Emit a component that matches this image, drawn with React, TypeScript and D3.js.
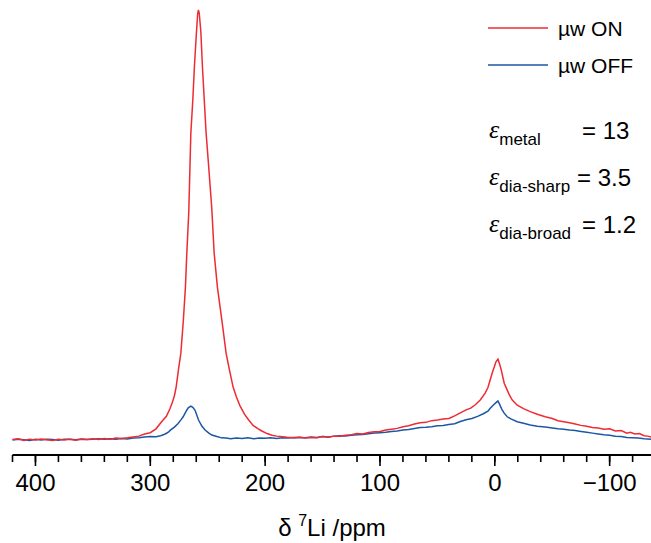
import React from "react";
import * as d3 from "d3";

// [ppm, intensity] (arbitrary units, main peak = 100)
const redOn: [number, number][] = [
  [420, 0.1], [415, 0.3], [410, -0.1], [405, 0.2], [400, 0.0], [395, 0.25], [390, 0.05], [385, -0.1],
  [380, 0.2], [375, 0.0], [370, 0.15], [365, -0.05], [360, 0.2], [355, 0.1], [350, 0.3], [345, 0.1],
  [340, 0.35], [335, 0.2], [330, 0.45], [325, 0.35], [320, 0.5], [315, 0.7], [310, 0.9], [305, 1.4],
  [300, 1.7], [295, 2.6], [290, 4.3], [286, 5.5], [283, 7.2], [281, 8.6], [279, 10.3], [277.5, 12.3],
  [275.5, 16.3], [273.4, 20.2], [271.2, 27.9], [269.4, 35.6], [268.2, 43.5], [266.5, 53], [264.7, 71.4],
  [263, 79], [261.6, 86.8], [260, 94], [258.8, 99], [258.1, 100], [257.4, 99.3], [256, 95], [254.6, 86.8],
  [253, 79], [251.4, 71.4], [249, 63], [246.5, 54], [244.4, 43.5], [241.6, 35.6], [237.7, 27.9],
  [234, 20.2], [231.1, 16.3], [227.9, 12.3], [225, 10.0], [222, 8.0], [218, 6.0], [214.5, 4.7],
  [210.5, 3.4], [206, 2.6], [202.9, 2.1], [198.3, 1.5], [194, 1.1], [190, 0.9], [185, 0.75],
  [180.8, 0.63], [175, 0.5], [170, 0.7], [165, 0.45], [160, 0.6], [155, 0.55], [150, 0.8], [145, 0.65],
  [140, 0.9], [135, 0.85], [130, 1.1], [125, 1.25], [120, 1.5], [115, 1.4], [110, 1.75], [105, 1.9],
  [100, 2.0], [95, 2.3], [90, 2.5], [85, 2.7], [80, 3.1], [75, 3.3], [70, 3.7], [65, 4.0], [60, 4.1],
  [55, 4.5], [50, 4.65], [45, 4.9], [40, 5.0], [35, 5.6], [30, 6.3], [25, 7.0], [21, 7.4], [17, 8.2],
  [12.7, 9.3], [8.4, 10.9], [6, 12.2], [4, 14], [2, 15.8], [0.5, 17], [-1, 18.2], [-2.7, 18.8],
  [-4, 17.8], [-5.6, 16.3], [-7, 14.6], [-8.2, 13.2], [-10.8, 11.6], [-13, 10.3], [-15.2, 9.3],
  [-19.5, 8.1], [-25, 7.3], [-30.8, 6.6], [-37, 6.0], [-43.9, 5.4], [-50, 5.0], [-55, 4.5], [-60, 4.26],
  [-65, 4.0], [-70, 3.7], [-75, 3.4], [-80, 3.2], [-85, 2.9], [-90, 2.8], [-95, 2.5], [-100, 2.6],
  [-105, 2.1], [-110, 2.2], [-115, 1.6], [-118, 1.8], [-122, 1.4], [-126, 1.5], [-130, 1.0], [-133, 0.9],
  [-136, 0.7],
];

const blueOff: [number, number][] = [
  [420, 0.0], [415, 0.2], [410, 0.05], [405, -0.1], [400, 0.15], [395, 0.0], [390, 0.2], [385, 0.1],
  [380, -0.05], [375, 0.15], [370, 0.2], [365, 0.05], [360, 0.25], [355, 0.1], [350, 0.2], [345, 0.3],
  [340, 0.15], [335, 0.3], [330, 0.2], [325, 0.35], [320, 0.25], [315, 0.45], [310, 0.5], [305, 0.7],
  [300, 0.8], [295, 0.75], [291, 1.0], [287, 1.4], [284, 1.9], [282, 2.4], [279, 3.0], [276, 3.8],
  [273, 4.8], [271.4, 5.4], [269, 6.6], [267, 7.5], [264.7, 7.9], [263, 7.6], [261, 6.9], [258, 4.65],
  [255, 3.2], [252.3, 2.33], [249, 1.6], [246.4, 1.16], [242, 0.8], [238, 0.5], [234, 0.45], [230, 0.3],
  [225, 0.45], [220, 0.35], [215, 0.5], [210, 0.3], [205, 0.45], [200, 0.4], [195, 0.55], [190, 0.35],
  [185, 0.5], [180, 0.45], [175, 0.6], [170, 0.5], [165, 0.55], [160, 0.7], [155, 0.6], [150, 0.8],
  [145, 0.7], [140, 0.9], [135, 1.0], [130, 0.95], [125, 1.1], [120, 1.2], [115, 1.3], [110, 1.45],
  [105, 1.6], [100, 1.7], [95, 1.8], [90, 1.95], [85, 2.1], [80, 2.3], [75, 2.45], [70, 2.7], [65, 2.9],
  [60, 2.95], [55, 3.1], [50, 3.3], [45, 3.4], [40, 3.6], [35, 3.8], [30, 4.3], [25, 4.7], [20, 5.0],
  [15, 5.5], [10, 6.1], [6, 6.7], [4, 7.4], [1, 8.2], [-1, 8.7], [-2.7, 9.1], [-4, 8.4], [-6, 7.2],
  [-8, 6.3], [-10.8, 5.4], [-14, 4.9], [-19.5, 4.26], [-25, 3.9], [-30.8, 3.5], [-37, 3.2], [-44, 3.0],
  [-50, 2.8], [-55, 2.6], [-60, 2.5], [-65, 2.3], [-70, 2.2], [-75, 2.0], [-80, 1.8], [-85, 1.6],
  [-90, 1.4], [-95, 1.2], [-100, 1.1], [-105, 0.9], [-110, 0.8], [-115, 0.6], [-120, 0.55], [-125, 0.45],
  [-130, 0.3], [-136, 0.2],
];

const majorTicks = [400, 300, 200, 100, 0, -100];
const minorTicks = d3.range(420, -140, -20);
const legendLabels = ["\u00b5w ON", "\u00b5w OFF"];
const epsSubs = ["metal", "dia-sharp", "dia-broad"];
const epsValues = ["13", "3.5", "1.2"];

const W = 651;
const H = 543;
const RED = "#ee2b33";
const BLUE = "#1c57a5";
const SANS = "'Liberation Sans', Arial, sans-serif";

export default function App() {
  const x = d3.scaleLinear().domain([420, -136]).range([12.5, 651]);
  const y = d3.scaleLinear().domain([0, 100]).range([440, 10]);
  const line = d3
    .line<[number, number]>()
    .x((d) => x(d[0]))
    .y((d) => y(d[1]));
  const axisY = 455;
  const fmt = d3.format("d");

  return (
    <svg
      width={W}
      height={H}
      style={{ position: "absolute", left: 0, top: 0, background: "#fff" }}
      fontFamily={SANS}
    >
      <path d={line(blueOff) || ""} fill="none" stroke={BLUE} strokeWidth={1.5} />
      <path d={line(redOn) || ""} fill="none" stroke={RED} strokeWidth={1.5} />

      {/* axis */}
      <line x1={12.5} x2={651} y1={axisY} y2={axisY} stroke="#000" strokeWidth={2} />
      {minorTicks.map((t) => (
        <line key={"m" + t} x1={x(t)} x2={x(t)} y1={axisY} y2={axisY + 7} stroke="#000" strokeWidth={1.6} />
      ))}
      {majorTicks.map((t) => (
        <g key={"M" + t}>
          <line x1={x(t)} x2={x(t)} y1={axisY} y2={axisY + 11} stroke="#000" strokeWidth={1.6} />
          <text x={x(t)} y={491} textAnchor="middle" fontSize={24} fill="#000">
            {fmt(t)}
          </text>
        </g>
      ))}
      <text x={332} y={536} textAnchor="middle" fontSize={24} fill="#000">
        <tspan>{"\u03b4 "}</tspan>
        <tspan fontSize={16} dy={-10}>7</tspan>
        <tspan dy={10}>Li /ppm</tspan>
      </text>

      {/* legend */}
      {legendLabels.map((l, i) => (
        <g key={l}>
          <line x1={488} x2={548} y1={28 + i * 37} y2={28 + i * 37} stroke={i === 0 ? RED : BLUE} strokeWidth={1.5} />
          <text x={558} y={36 + i * 37} fontSize={21} fill="#000">
            {l}
          </text>
        </g>
      ))}

      {/* epsilon annotations */}
      {epsSubs.map((s, i) => (
        <g key={s}>
          <text x={489} y={138 + i * 47} fontSize={26} fill="#000">
            <tspan fontFamily="'Liberation Serif', 'Times New Roman', serif" fontStyle="italic">
              {"\u03b5"}
            </tspan>
            <tspan fontSize={17} dy={7}>{s}</tspan>
          </text>
          <text x={i === 1 ? 577 : 582} y={139 + i * 47} fontSize={24} fill="#000">
            {"= " + epsValues[i]}
          </text>
        </g>
      ))}
    </svg>
  );
}
